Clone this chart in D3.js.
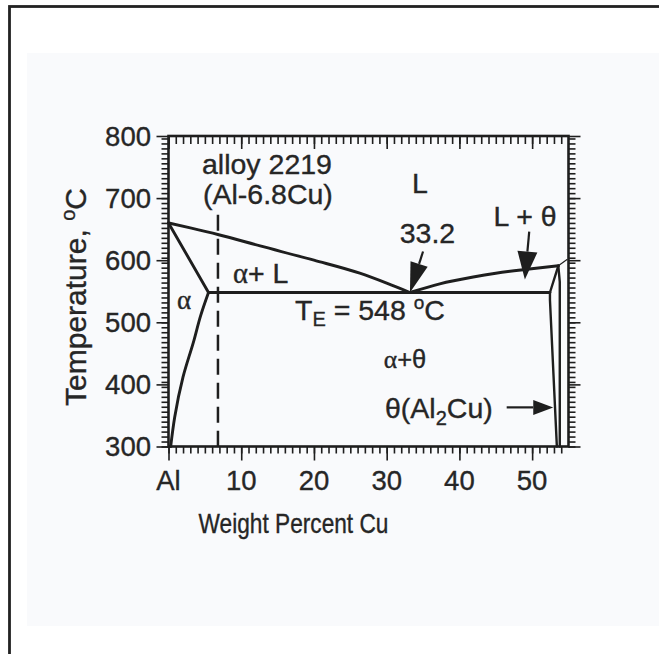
<!DOCTYPE html>
<html><head><meta charset="utf-8">
<script src="https://cdn.jsdelivr.net/npm/d3@7"></script>
<style>
html,body{margin:0;padding:0;background:#fff;}
svg{display:block;}
text{font-family:"Liberation Sans",Arial,sans-serif;fill:#262626;stroke:#262626;stroke-width:0.35px;}
</style></head>
<body>
<svg id="c" width="659" height="654"></svg>
<script>
// ---------- data ----------
const xTickValues = [0, 10, 20, 30, 40, 50];
const xTickLabels = ["Al", "10", "20", "30", "40", "50"];
const yTickValues = [300, 400, 500, 600, 700, 800];
const liquidusLeft = [[0,660],[3,652],[6.9,641],[12.6,623],[20,600],[26.3,579],[30,563],[33.2,548]];
const liquidusRight = [[33.2,548],[37.3,562],[41.9,573],[45,579],[49,585],[53.6,591]];
const solidusAlpha = [[0,660],[5.5,548]];
const solvusAlpha = [[5.5,548],[4.4,510],[3.5,471],[2.0,412],[0.85,347],[0.3,300]];
const eutecticLine = [[5.5,548],[52.45,548]];
const thetaLeft = [[53.6,591],[52.45,548],[52.45,536],[53.4,300]];
const thetaRight = [[53.6,591],[53.8,565],[53.8,300]];
const liquidusTail = [[53.6,591],[54.8,601]];
const alloyLine = [[6.8,673],[6.8,300]];
const arrowEutectic = [[35.0,614],[33.2,548]];
const arrowLTheta = [[49.6,646],[49.0,569]];
const arrowTheta = [[46.5,363],[52.9,363]];

// ---------- layout ----------
const svg = d3.select("#c");
const x = d3.scaleLinear().domain([0,55]).range([168.5,568.5]);
const y = d3.scaleLinear().domain([300,800]).range([446.5,136]);
const ink = "#1e1e1e";

// outer frame and panel
svg.append("rect").attr("x",27).attr("y",53).attr("width",640).attr("height",573).attr("fill","#f9fafc");
svg.append("rect").attr("x",9.5).attr("y",6.5).attr("width",700).attr("height",700)
  .attr("fill","none").attr("stroke","#222").attr("stroke-width",2.8);

const g = svg.append("g");

// axes: minor ticks
function styleAxis(sel){ sel.select(".domain").remove(); sel.selectAll("line").attr("stroke",ink).attr("stroke-width",1.6); sel.selectAll("text").remove(); }
const xMinor = d3.range(0,55,1);
const yMinor = d3.range(300,801,8);
g.append("g").attr("transform",`translate(0,${y(300)})`)
  .call(d3.axisBottom(x).tickValues(xMinor).tickSize(7)).call(styleAxis);
g.append("g").attr("transform",`translate(0,${y(300)})`)
  .call(d3.axisBottom(x).tickValues(xTickValues).tickSize(14)).call(styleAxis);
g.append("g").attr("transform",`translate(0,${y(800)})`)
  .call(d3.axisBottom(x).tickValues(xMinor).tickSize(8)).call(styleAxis);
g.append("g").attr("transform",`translate(0,${y(800)})`)
  .call(d3.axisBottom(x).tickValues(xTickValues).tickSize(13)).call(styleAxis);
g.append("g").attr("transform",`translate(${x(0)},0)`)
  .call(d3.axisLeft(y).tickValues(yMinor).tickSize(7)).call(styleAxis);
g.append("g").attr("transform",`translate(${x(0)},0)`)
  .call(d3.axisLeft(y).tickValues(yTickValues).tickSize(12)).call(styleAxis);
g.append("g").attr("transform",`translate(${x(55)},0)`)
  .call(d3.axisRight(y).tickValues(yMinor).tickSize(7)).call(styleAxis);
g.append("g").attr("transform",`translate(${x(55)},0)`)
  .call(d3.axisRight(y).tickValues(yTickValues).tickSize(12)).call(styleAxis);

// plot frame
g.append("rect").attr("x",x(0)).attr("y",y(800)).attr("width",x(55)-x(0)).attr("height",y(300)-y(800))
  .attr("fill","none").attr("stroke",ink).attr("stroke-width",2.6);

// tick labels
g.selectAll(".xl").data(xTickValues).join("text")
  .attr("x",d=>x(d)).attr("y",490).attr("text-anchor","middle").attr("font-size",27.5)
  .text((d,i)=>xTickLabels[i]);
g.selectAll(".yl").data(yTickValues).join("text")
  .attr("x",151).attr("y",d=>y(d)+9.8).attr("text-anchor","end").attr("font-size",27.5)
  .text(d=>d);

// axis titles
g.append("text").attr("transform","translate(293.5,533) scale(0.84,1)").attr("text-anchor","middle").attr("font-size",27)
  .text("Weight Percent Cu");
const yt = g.append("text").attr("transform","translate(86,297) rotate(-90)").attr("text-anchor","middle").attr("font-size",30);
yt.append("tspan").text("Temperature, ");
yt.append("tspan").attr("font-size",20).attr("dy",-11).text("o");
yt.append("tspan").attr("dy",11).text("C");

// phase lines
const line = d3.line().x(d=>x(d[0])).y(d=>y(d[1]));
const curve = d3.line().x(d=>x(d[0])).y(d=>y(d[1])).curve(d3.curveMonotoneX);
function path(data, gen, w){ g.append("path").datum(data).attr("d",gen).attr("fill","none")
  .attr("stroke",ink).attr("stroke-width",w).attr("stroke-linejoin","round").attr("stroke-linecap","round"); }
path(liquidusLeft, curve, 2.9);
path(liquidusRight, curve, 2.9);
path(solidusAlpha, line, 2.9);
path(solvusAlpha, d3.line().x(d=>x(d[0])).y(d=>y(d[1])).curve(d3.curveMonotoneY), 2.9);
path(eutecticLine, line, 2.9);
path(thetaLeft, line, 2.4);
path(thetaRight, line, 2.4);
path(liquidusTail, line, 1.2);
g.append("path").datum(alloyLine).attr("d",line).attr("fill","none").attr("stroke",ink)
  .attr("stroke-width",2.5).attr("stroke-dasharray","16,8");

// arrows
function arrow(pts, len, wid){
  const x0=x(pts[0][0]), y0=y(pts[0][1]), x1=x(pts[1][0]), y1=y(pts[1][1]);
  const dx=x1-x0, dy=y1-y0, L=Math.hypot(dx,dy), ux=dx/L, uy=dy/L;
  const bx=x1-ux*len, by=y1-uy*len;
  g.append("line").attr("x1",x0).attr("y1",y0).attr("x2",bx).attr("y2",by).attr("stroke",ink).attr("stroke-width",2.2);
  g.append("polygon").attr("points",[[x1,y1],[bx-uy*wid/2,by+ux*wid/2],[bx+uy*wid/2,by-ux*wid/2]].map(p=>p.join(",")).join(" "))
    .attr("fill",ink);
}
arrow(arrowEutectic, 30, 18);
arrow(arrowLTheta, 28, 20);
arrow(arrowTheta, 20, 15);

// labels
const fs = 28.5;
function label(xp, yp, anchor, parts, size){
  const t = g.append("text").attr("x",xp).attr("y",yp).attr("text-anchor",anchor).attr("font-size",size||fs);
  parts.forEach(p=>{ const s=t.append("tspan").text(p.t); if(p.fs) s.attr("font-size",p.fs); if(p.dy) s.attr("dy",p.dy);
    if(p.ff) s.attr("font-family",p.ff); if(p.x!=null) s.attr("x",p.x); });
  return t;
}
label(202,174,"start",[{t:"alloy 2219"},{t:"(Al-6.8Cu)",x:203,dy:30}]);
label(420,193,"middle",[{t:"L"}]);
label(427.5,243,"middle",[{t:"33.2"}]);
label(525,226,"middle",[{t:"L + θ"}]);
label(233,283,"start",[{t:"α",ff:"Liberation Serif"},{t:"+ L"}]);
label(184,309,"middle",[{t:"α",ff:"Liberation Serif"}],27);
label(295,320,"start",[{t:"T"},{t:"E",fs:20,dy:6},{t:" = 548 ",dy:-6},{t:"o",fs:19,dy:-11},{t:"C",dy:11}]);
label(405,368,"middle",[{t:"α",ff:"Liberation Serif"},{t:"+θ"}],25.5);
label(385,418,"start",[{t:"θ(Al"},{t:"2",fs:20,dy:7},{t:"Cu)",dy:-7}]);
</script>
</body></html>
